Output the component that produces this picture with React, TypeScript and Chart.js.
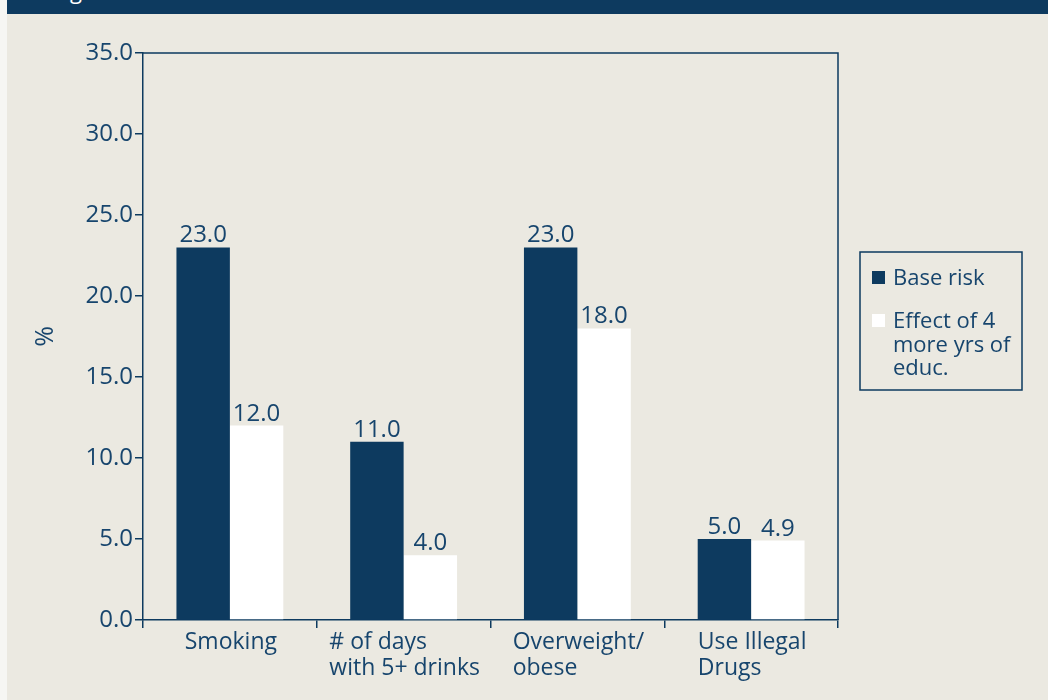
import React, { useEffect, useRef } from "react";
import { Chart, registerables } from "chart.js";

Chart.register(...registerables);

const categories: string[][] = [
  ["Smoking"],
  ["# of days", "with 5+ drinks"],
  ["Overweight/", "obese"],
  ["Use Illegal", "Drugs"],
];
const baseRisk = [23.0, 11.0, 23.0, 5.0];
const effectEduc = [12.0, 4.0, 18.0, 4.9];
const seriesLegendLines = [["Base risk"], ["Effect of 4", "more yrs of", "educ."]];
const yTicks = { min: 0, max: 35, step: 5 };
const yTitle = "%";
const headerText = "Figure";

const NAVY = "#0d3a5f";
const TEXT = "#17456d";
const BG = "#ebe9e1";
const FONT = "'Open Sans', sans-serif";

export default function App() {
  const ref = useRef<HTMLCanvasElement | null>(null);

  useEffect(() => {
    if (!ref.current) return;

    const framePlugin = {
      id: "frame",
      afterDraw(chart: any) {
        const { ctx, chartArea } = chart;
        ctx.save();
        ctx.strokeStyle = NAVY;
        ctx.lineWidth = 1.5;
        ctx.beginPath();
        ctx.moveTo(chartArea.left, chartArea.top);
        ctx.lineTo(chartArea.right, chartArea.top);
        ctx.lineTo(chartArea.right, chartArea.bottom);
        ctx.stroke();

        // value labels
        ctx.font = `24px ${FONT}`;
        ctx.fillStyle = TEXT;
        ctx.textAlign = "center";
        ctx.textBaseline = "alphabetic";
        chart.data.datasets.forEach((ds: any, di: number) => {
          const meta = chart.getDatasetMeta(di);
          meta.data.forEach((el: any, i: number) => {
            ctx.fillText(Number(ds.data[i]).toFixed(1), el.x, el.y - 5);
          });
        });

        // x labels (left-aligned block, centred on category)
        ctx.font = `23px ${FONT}`;
        const xs = chart.scales.x;
        ctx.textAlign = "left";
        categories.forEach((lines, i) => {
          const cx = xs.getPixelForValue(i);
          const w = Math.max(...lines.map((l) => ctx.measureText(l).width));
          lines.forEach((l, j) => {
            ctx.fillText(l, cx - w / 2 + 1, chartArea.bottom + 29 + j * 26);
          });
        });

        // legend
        ctx.font = `22px ${FONT}`;
        const lx = chartArea.right + 22;
        const ly = chartArea.top + 199;
        const lw = 162;
        const lh = 138;
        ctx.strokeStyle = NAVY;
        ctx.lineWidth = 1.5;
        ctx.strokeRect(lx, ly, lw, lh);
        let y = ly + 33;
        chart.data.datasets.forEach((ds: any, di: number) => {
          ctx.fillStyle = ds.backgroundColor;
          ctx.fillRect(lx + 12, y - 14, 13, 13);
          ctx.fillStyle = TEXT;
          seriesLegendLines[di].forEach((l, j) => {
            ctx.fillText(l, lx + 33, y + j * 23.5);
          });
          y += 43;
        });
        ctx.restore();
      },
    };

    const chart = new Chart(ref.current, {
      type: "bar",
      data: {
        labels: categories.map((c) => c.join(" ")),
        datasets: [
          {
            label: seriesLegendLines[0].join(" "),
            data: baseRisk,
            backgroundColor: NAVY,
            borderWidth: 0,
            categoryPercentage: 0.615,
            barPercentage: 1,
          },
          {
            label: seriesLegendLines[1].join(" "),
            data: effectEduc,
            backgroundColor: "#ffffff",
            borderWidth: 0,
            categoryPercentage: 0.615,
            barPercentage: 1,
          },
        ],
      },
      options: {
        animation: false,
        responsive: false,
        maintainAspectRatio: false,
        layout: { padding: { top: 39, right: 210, left: 0, bottom: 0 } },
        plugins: {
          legend: { display: false },
          tooltip: { enabled: false },
        },
        scales: {
          x: {
            ticks: { display: false },
            grid: {
              offset: true,
              drawOnChartArea: false,
              drawTicks: true,
              tickLength: 8,
              color: NAVY,
              lineWidth: 1.5,
            },
            border: { display: true, color: NAVY, width: 1.5 },
            afterFit: (s: any) => {
              s.height = 80;
            },
          },
          y: {
            min: yTicks.min,
            max: yTicks.max,
            ticks: {
              stepSize: yTicks.step,
              color: TEXT,
              font: { family: FONT, size: 24 },
              padding: 2,
              callback: (v: any) => Number(v).toFixed(1),
            },
            grid: {
              drawOnChartArea: false,
              drawTicks: true,
              tickLength: 8,
              color: NAVY,
              lineWidth: 1.5,
            },
            border: { display: true, color: NAVY, width: 1.5 },
            title: {
              display: true,
              text: yTitle,
              color: TEXT,
              font: { family: FONT, size: 25 },
              padding: { top: 24, bottom: 0 },
            },
            afterFit: (s: any) => {
              s.width = 136;
            },
          },
        },
      },
      plugins: [framePlugin],
    });
    return () => chart.destroy();
  }, []);

  return (
    <div
      style={{
        position: "fixed",
        left: 0,
        top: 0,
        width: 1048,
        height: 700,
        background: "#f6f6f3",
        overflow: "hidden",
      }}
    >
      <div
        style={{
          position: "absolute",
          left: 7,
          top: 0,
          width: 1041,
          height: 14,
          background: NAVY,
          overflow: "hidden",
        }}
      >
        <span
          style={{
            position: "absolute",
            left: 46,
            top: -25,
            color: "#ffffff",
            font: `22px ${FONT}`,
            lineHeight: "30px",
          }}
        >
          {headerText}
        </span>
      </div>
      <div
        style={{
          position: "absolute",
          left: 7,
          top: 14,
          width: 1041,
          height: 686,
          background: BG,
        }}
      >
        <canvas ref={ref} width={1041} height={686} style={{ display: "block" }} />
      </div>
    </div>
  );
}
